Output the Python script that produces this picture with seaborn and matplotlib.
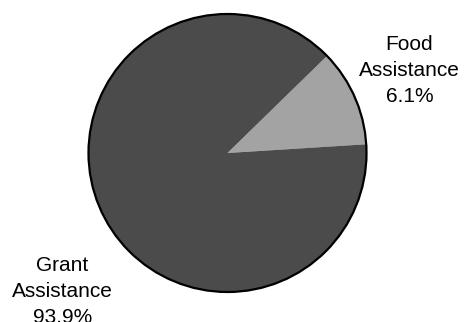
import matplotlib
matplotlib.use("Agg")
import matplotlib.pyplot as plt
import seaborn as sns
from matplotlib.patches import Circle

# ---- data ----
categories = ["Food\nAssistance", "Grant\nAssistance"]
pct_labels = ["6.1%", "93.9%"]
# slice shares as drawn in the reference picture
slice_shares = [11.3, 88.7]
slice_colors = ["#a3a3a3", "#4b4b4b"]

sns.set_theme(style="white")
plt.rcParams["font.family"] = ["Liberation Sans", "DejaVu Sans"]

W, H = 465, 322
fig = plt.figure(figsize=(W / 100, H / 100), dpi=100)
ax = fig.add_axes([0, 0, 1, 1])

cx, cy, r = 227.5, H - 153, 139
ax.pie(slice_shares, colors=slice_colors, startangle=3.6, counterclock=True,
       center=(cx, cy), radius=r, wedgeprops=dict(linewidth=0),
       frame=False)
ax.add_patch(Circle((cx, cy), r, fill=False, edgecolor="black", linewidth=1.6, zorder=5))
ax.set_xlim(0, W)
ax.set_ylim(0, H)
ax.set_aspect("equal")
ax.axis("off")

# label block positions (first baseline, in image pixels from top)
label_pos = [(409.5, 50), (62.5, 271)]
step = 26
for cat, pct, (lx, ly) in zip(categories, pct_labels, label_pos):
    lines = cat.split("\n") + [pct]
    for i, line in enumerate(lines):
        ax.text(lx, H - (ly + i * step), line, ha="center", va="baseline",
                fontsize=15, color="black")

fig.savefig("out.png", dpi=100)
